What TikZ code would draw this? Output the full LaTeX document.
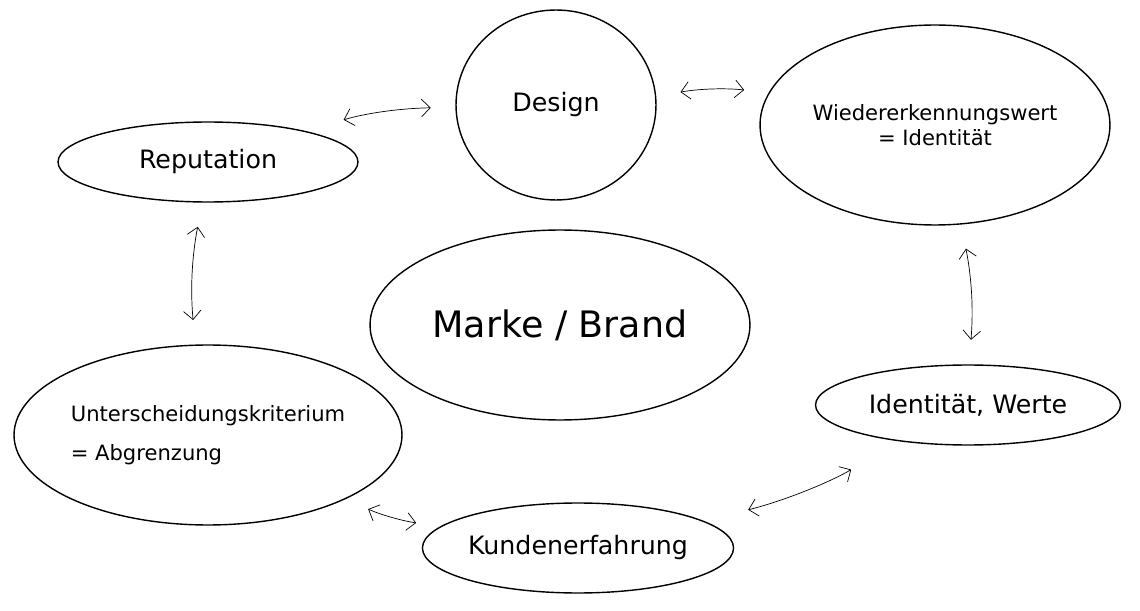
\documentclass[tikz,border=0pt]{standalone}
\usepackage{fontspec}
\setmainfont{DejaVu Sans}
\usetikzlibrary{shapes.geometric,arrows.meta}
\tikzset{
  bubble/.style={ellipse, draw, thick, inner sep=0pt},
  link/.style={{Straight Barb[length=5pt]}-{Straight Barb[length=5pt]}, thin, shorten >=14pt, shorten <=14pt}
}
\begin{document}
\begin{tikzpicture}[x=0.02cm, y=-0.02cm]
\useasboundingbox (0,0) rectangle (1140,611);

% Bubbles
\node[bubble, minimum width=6cm, minimum height=1.6cm, font=\Large] (rep) at (208,162) {Reputation};
\node[bubble, minimum width=4cm, minimum height=3.8cm, font=\Large] (des) at (556,105) {Design};
\node[bubble, minimum width=7cm, minimum height=4cm, align=center, font=\large] (wie) at (935,125) {Wiedererkennungswert\\= Identität};
\node[bubble, minimum width=7.6cm, minimum height=3.8cm, font=\huge] (mar) at (560,325) {Marke / Brand};
\node[bubble, minimum width=7.6cm, minimum height=3.6cm, align=left, font=\large] (unt) at (208,435) {Unterscheidungskriterium\\[8pt]= Abgrenzung};
\node[bubble, minimum width=6cm, minimum height=1.8cm, font=\Large] (kun) at (578,548) {Kundenerfahrung};
\node[bubble, minimum width=6.1cm, minimum height=1.6cm, font=\Large] (ide) at (968,405) {Identität, Werte};

% Verbindungen
\draw[link, shorten <=22pt] (rep) to[bend left=8] (des);
\draw[link] (des) to[bend left=8] (wie);
\draw[link] (rep) to[bend right=8] (unt);
\draw[link] (wie) to[bend left=8] (ide);
\draw[link] (unt) to[bend right=8] (kun);
\draw[link, shorten >=32pt, shorten <=26pt] (kun) to[bend right=8] (ide);
\end{tikzpicture}
\end{document}
